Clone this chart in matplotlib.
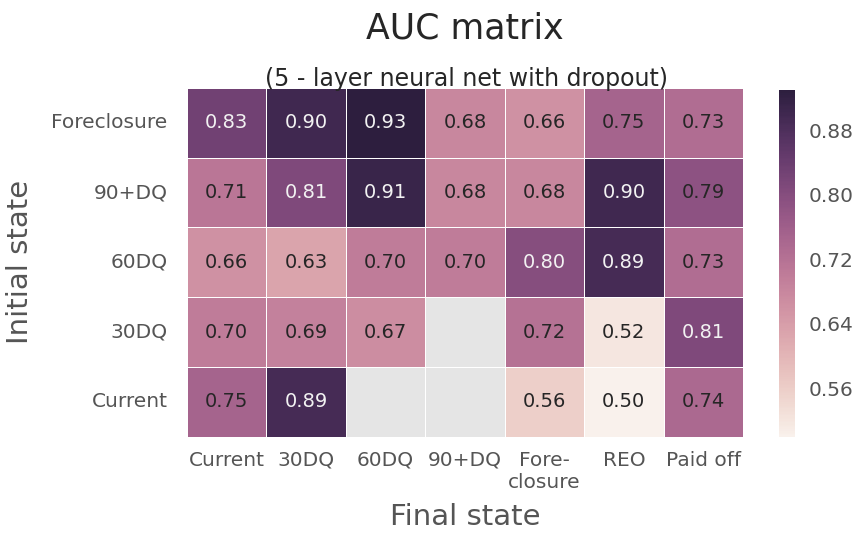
import matplotlib
matplotlib.use("Agg")
import matplotlib.pyplot as plt
import numpy as np
import seaborn as sns

initial_states = ["Foreclosure", "90+DQ", "60DQ", "30DQ", "Current"]
final_states = ["Current", "30DQ", "60DQ", "90+DQ", "Fore-\nclosure", "REO", "Paid off"]

auc_foreclosure = [0.83, 0.90, 0.93, 0.68, 0.66, 0.75, 0.73]
auc_90dq = [0.71, 0.81, 0.91, 0.68, 0.68, 0.90, 0.79]
auc_60dq = [0.66, 0.63, 0.70, 0.70, 0.80, 0.89, 0.73]
auc_30dq = [0.70, 0.69, 0.67, np.nan, 0.72, 0.52, 0.81]
auc_current = [0.75, 0.89, np.nan, np.nan, 0.56, 0.50, 0.74]

auc = np.array([auc_foreclosure, auc_90dq, auc_60dq, auc_30dq, auc_current])

grey = "#555555"
plt.rcParams["font.family"] = ["DejaVu Sans"]

fig = plt.figure(figsize=(8.61, 5.36), dpi=100)
ax = fig.add_axes([0.217, 0.185, 0.646, 0.651])
cax = fig.add_axes([0.905, 0.185, 0.0186, 0.647])
ax.set_facecolor("#E5E5E5")

cmap = sns.cubehelix_palette(light=.95, as_cmap=True)
sns.heatmap(auc, ax=ax, cbar_ax=cax, cmap=cmap, vmin=np.nanmin(auc), vmax=np.nanmax(auc),
            annot=True, fmt=".2f", annot_kws={"size": 14}, linewidths=0.6, linecolor="white",
            xticklabels=final_states, yticklabels=initial_states)

# dark cells get light text, the rest dark text
for t in ax.texts:
    t.set_color("#F2F2F2" if float(t.get_text()) >= 0.80 else "#262626")

ax.tick_params(length=0, labelsize=14.5, colors=grey)
ax.tick_params(axis="y", pad=14)
ax.tick_params(axis="x", pad=10)
plt.setp(ax.get_yticklabels(), rotation=0)
plt.setp(ax.get_xticklabels(), rotation=0, ha="center")
ax.set_xlabel("Final state", fontsize=21, color=grey, labelpad=8)
ax.set_ylabel("Initial state", fontsize=21, color=grey, labelpad=12)

cax.set_yticks([0.56, 0.64, 0.72, 0.80, 0.88])
cax.tick_params(length=0, labelsize=14.5, colors=grey, pad=10)
cax.yaxis.set_major_formatter(matplotlib.ticker.FormatStrFormatter("%.2f"))
for s in cax.spines.values():
    s.set_visible(False)

fig.text(0.54, 0.946, "AUC matrix", ha="center", va="center", fontsize=25, color="#262626")
fig.text(0.542, 0.853, "(5 - layer neural net with dropout)", ha="center", va="center",
         fontsize=17, color="#262626")

fig.savefig("out.png", dpi=100)
